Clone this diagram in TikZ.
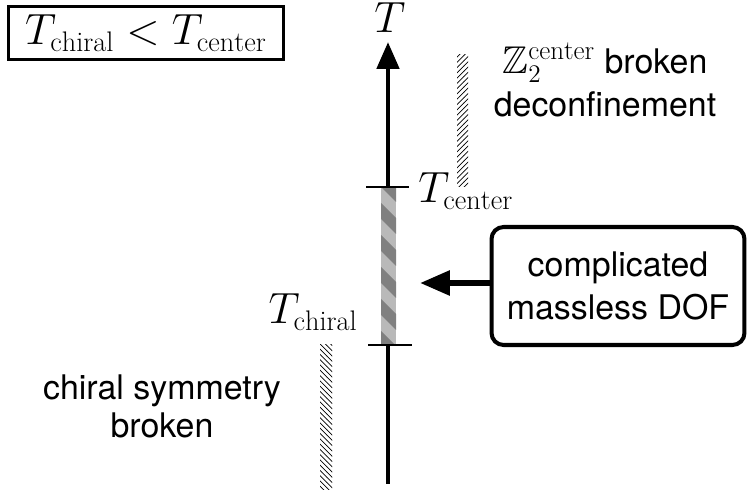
\documentclass[tikz,border=0pt]{standalone}
\usepackage{fontspec}
\usepackage{amssymb}
\newfontfamily\helv{TeX Gyre Heros}
\usetikzlibrary{arrows.meta,patterns,positioning}

\tikzstyle{orderBox} = [rectangle, draw=black, line width=1.7pt, minimum width=5.52cm, minimum height=1.06cm, inner sep=0pt, text centered, font=\fontsize{23}{28}\selectfont]
\tikzstyle{dofBox} = [rectangle, rounded corners=0.24cm, draw=black, line width=2.3pt, minimum width=5.06cm, minimum height=2.36cm, align=center, font=\helv\fontsize{19.3}{24}\selectfont]
\tikzstyle{mathLabel} = [inner sep=0pt, font=\fontsize{23}{28}\selectfont]
\tikzstyle{textLabel} = [inner sep=0pt, align=center, font=\helv\fontsize{19.3}{24}\selectfont]
\tikzstyle{axis} = [line width=2.8pt, -{Triangle[length=0.54cm,width=0.44cm]}]
\tikzstyle{arrow} = [line width=3.4pt, -{Triangle[length=0.6cm,width=0.48cm]}]
\tikzstyle{tick} = [line width=1.7pt]

\begin{document}
\begin{tikzpicture}[x=0.02cm, y=-0.02cm]
    \useasboundingbox (0,0) rectangle (752,493);

    % temperature axis
    \coordinate (axisBottom) at (388,484);
    \coordinate (axisTop) at (388,42);
    \draw [axis] (axisBottom) -- (axisTop);
    \node (Tlabel)[mathLabel, anchor=base] at (390,33) {$T$};

    % region between the two transitions
    \begin{scope}
        \clip (381,187) rectangle (396,345);
        \fill [gray!55] (381,187) rectangle (396,345);
        \foreach \k in {0,...,6}
            \fill [gray] (381,171+\k*32) -- ++(0,16) -- ++(15,15) -- ++(0,-16) -- cycle;
    \end{scope}
    \draw [tick] (366,187) coordinate (tickCenterL) -- (409,187) coordinate (tickCenterR);
    \draw [tick] (368,345) coordinate (tickChiralL) -- (412,345) coordinate (tickChiralR);

    \node (Tcenter)[mathLabel, anchor=base west] at (418,203) {$T_{\rm center}$};
    \node (Tchiral)[mathLabel, anchor=base east] at (358,324) {$T_{\rm chiral}$};

    % hatched phases
    \fill [pattern=north east lines] (457,55) rectangle (468,187);
    \fill [pattern=north west lines] (320,345) rectangle (332,490);

    \node (deconf)[textLabel, font=\helv\fontsize{19.3}{24.5}\selectfont] at (605,80) {{\fontsize{22}{26}\selectfont$\mathbb{Z}_2^{\rm center}$} broken\\deconfinement};
    \node (chiralBroken)[textLabel, font=\helv\fontsize{19.3}{21.6}\selectfont] at (162,406) {chiral symmetry\\broken};

    \node (order)[orderBox] at (146,33) {$T_{\rm chiral} < T_{\rm center}$};

    \node (dof)[dofBox] at (618,286) {complicated\\massless DOF};
    \coordinate (barMid) at (420,283);
    \draw [arrow] (dof.west |- barMid) -- (barMid);
\end{tikzpicture}
\end{document}
